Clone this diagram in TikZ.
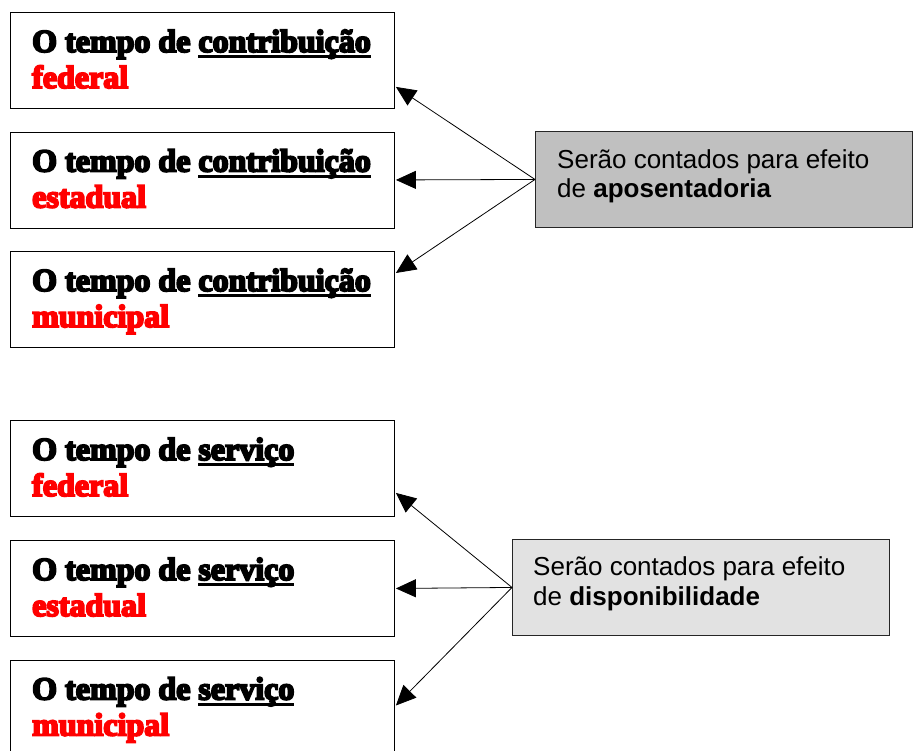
\documentclass[tikz,border=0pt]{standalone}
\usepackage{fontspec}
\setmainfont{Liberation Serif}
\newfontfamily\heavyserif{Liberation Serif Bold}[FakeBold=6]
\newfontfamily\arialf{Liberation Sans}
\usetikzlibrary{arrows.meta}
\definecolor{redtxt}{HTML}{FF0000}
\definecolor{grayA}{HTML}{C0C0C0}
\definecolor{grayB}{HTML}{E2E2E2}
\newcommand\thickul[1]{\setbox0=\hbox{#1}\rlap{\rule[-6pt]{\wd0}{2.8pt}}\box0}
\begin{document}
\begin{tikzpicture}[x=1pt,y=-1pt,
  leftbox/.style={draw=black, line width=0.9pt, minimum width=384pt, minimum height=96pt, anchor=north west, inner sep=0pt},
  graybox/.style={draw=black!85, line width=0.9pt, minimum width=377pt, minimum height=96pt, anchor=north west, inner sep=0pt},
  ltext/.style={anchor=base west, inner sep=0pt, font=\heavyserif\fontsize{32}{36}\selectfont},
  rtext/.style={anchor=base west, inner sep=0pt, font=\arialf\fontsize{26}{30}\selectfont},
  arr/.style={line width=0.8pt, -{Triangle[length=20pt,width=18pt]}}]
\useasboundingbox (0,0) rectangle (913,750);
\clip (0,0) rectangle (913,750);
% left boxes
\node[leftbox] (b1) at (10,12) {};
\node[leftbox] (b2) at (10,131.5) {};
\node[leftbox] (b3) at (10,251) {};
\node[leftbox] (b4) at (10,420) {};
\node[leftbox] (b5) at (10,540) {};
\node[leftbox] (b6) at (10,659.5) {};
% left texts
\node[ltext] (l1a) at (32,52) {O tempo de \thickul{contribuição}};
\node[ltext, text=redtxt] (l1b) at (32,88) {federal};
\node[ltext] (l2a) at (32,171.5) {O tempo de \thickul{contribuição}};
\node[ltext, text=redtxt] (l2b) at (32,207.5) {estadual};
\node[ltext] (l3a) at (32,291) {O tempo de \thickul{contribuição}};
\node[ltext, text=redtxt] (l3b) at (32,327) {municipal};
\node[ltext] (l4a) at (32,460) {O tempo de \thickul{serviço}};
\node[ltext, text=redtxt] (l4b) at (32,496) {federal};
\node[ltext] (l5a) at (32,580) {O tempo de \thickul{serviço}};
\node[ltext, text=redtxt] (l5b) at (32,616) {estadual};
\node[ltext] (l6a) at (32,699.5) {O tempo de \thickul{serviço}};
\node[ltext, text=redtxt] (l6b) at (32,735.5) {municipal};
% gray boxes
\node[graybox, fill=grayA] (g1) at (535,131) {};
\node[graybox, fill=grayB] (g2) at (512,539) {};
\node[rtext] (r1a) at (557,168) {Serão contados para efeito};
\node[rtext] (r1b) at (557,197) {de \textbf{aposentadoria}};
\node[rtext] (r2a) at (533,575) {Serão contados para efeito};
\node[rtext] (r2b) at (533,605) {de \textbf{disponibilidade}};
% arrow targets
\path (b1.south east) ++(1,-22) coordinate (t1);
\path (b2.east) ++(1,0) coordinate (t2);
\path (b3.north east) ++(1,22) coordinate (t3);
\path (b4.south east) ++(1,-24) coordinate (t4);
\path (b5.east) ++(1,0) coordinate (t5);
\path (b6.north east) ++(1,46) coordinate (t6);
% arrows
\draw[arr] (g1.west) -- (t1);
\draw[arr] (g1.west) -- (t2);
\draw[arr] (g1.west) -- (t3);
\draw[arr] (g2.west) -- (t4);
\draw[arr] (g2.west) -- (t5);
\draw[arr] (g2.west) -- (t6);
\end{tikzpicture}
\end{document}
